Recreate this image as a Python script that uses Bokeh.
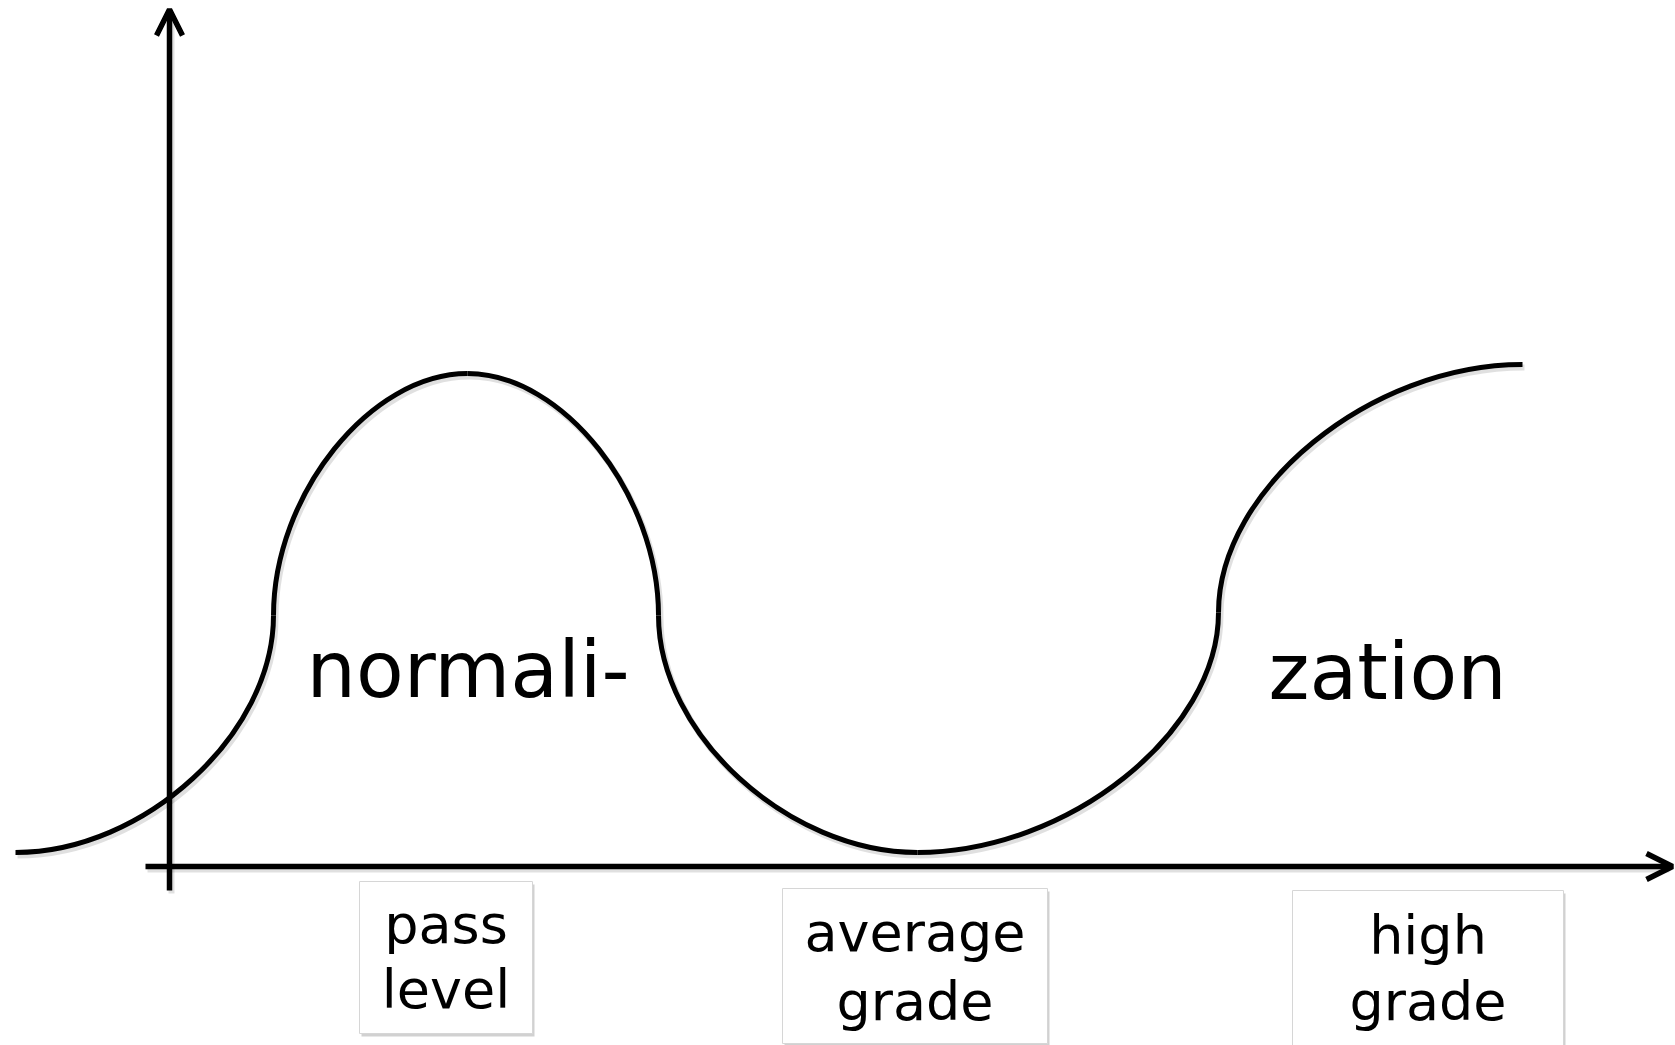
from bokeh.plotting import figure
from bokeh.models import Range1d, Arrow, OpenHead, ColumnDataSource
from bokeh.core.properties import value
from bokeh.embed import file_html
from bokeh.resources import INLINE

# ---- data (diagram units: origin where the two axes cross) ----
knot_x = [-154, 104, 298, 489, 748, 1049, 1353]
knot_y = [14, 251, 493, 251, 14, 254, 502]
knot_tangent = ["h", "v", "h", "v", "h", "v", "h"]

word_text = ["normali-", "zation"]
word_x = [137, 1099]
word_y = [166, 164]

label_top = ["pass", "average", "high"]
label_bottom = ["level", "grade", "grade"]
label_x = [276.5, 745.5, 1258.5]

# ---- layout constants ----
box_half_w = [86.5, 132.5, 135.5]
box_top = [-15, -22, -24]
box_bottom = [-167, -177, -190]
line1_y = [-79, -87, -90]
line2_y = [-144, -156, -156]
K = 0.5
FONT = "DejaVu Sans"
BASE_SHIFT = 0.385  # baseline correction, in em
WORD_SIZE = 78
LABEL_SIZE = 54

p = figure(width=1675, height=1045, output_backend="svg", toolbar_location=None,
           x_range=Range1d(-169, 1506), y_range=Range1d(-179, 866),
           x_axis_location=None, y_axis_location=None, min_border=0)
p.grid.visible = False
p.outline_line_color = None
p.background_fill_color = "white"
p.border_fill_color = "white"

# bezier segments between knots
segs = dict(x0=[], y0=[], x1=[], y1=[], cx0=[], cy0=[], cx1=[], cy1=[])
for i in range(len(knot_x) - 1):
    xa, ya, xb, yb = knot_x[i], knot_y[i], knot_x[i + 1], knot_y[i + 1]
    if knot_tangent[i] == "h":
        c0 = (xa + K * (xb - xa), ya)
        c1 = (xb, yb + K * (ya - yb))
    else:
        c0 = (xa, ya + K * (yb - ya))
        c1 = (xb - K * (xb - xa), yb)
    segs["x0"].append(xa); segs["y0"].append(ya)
    segs["x1"].append(xb); segs["y1"].append(yb)
    segs["cx0"].append(c0[0]); segs["cy0"].append(c0[1])
    segs["cx1"].append(c1[0]); segs["cy1"].append(c1[1])

shadow = {k: [v + (2 if k.startswith(("x", "cx")) else -3) for v in vals] for k, vals in segs.items()}
p.bezier(source=ColumnDataSource(shadow), x0="x0", y0="y0", x1="x1", y1="y1",
         cx0="cx0", cy0="cy0", cx1="cx1", cy1="cy1",
         line_color="black", line_alpha=0.12, line_width=6)

# axes with shadows
p.segment(x0=[2, -22], y0=[-27, -3], x1=[2, 1500], y1=[852, -3],
          line_color="black", line_alpha=0.12, line_width=6)
p.add_layout(Arrow(end=OpenHead(size=26, line_width=5.5, line_color="black"),
                   x_start=0, y_start=-24, x_end=0, y_end=857,
                   line_width=5.5, line_color="black"))
p.add_layout(Arrow(end=OpenHead(size=26, line_width=5.5, line_color="black"),
                   x_start=-24, y_start=0, x_end=1503, y_end=0,
                   line_width=5.5, line_color="black"))

p.bezier(source=ColumnDataSource(segs), x0="x0", y0="y0", x1="x1", y1="y1",
         cx0="cx0", cy0="cy0", cx1="cx1", cy1="cy1",
         line_color="black", line_width=5)

p.text(x=word_x, y=[v + BASE_SHIFT * WORD_SIZE for v in word_y], text=word_text,
       text_font=value(FONT), text_font_size=f"{WORD_SIZE}px", text_color="black",
       text_baseline="alphabetic", text_align="left")

# label boxes
lefts = [c - w for c, w in zip(label_x, box_half_w)]
rights = [c + w for c, w in zip(label_x, box_half_w)]
p.quad(left=[l + 2 for l in lefts], right=[r + 2 for r in rights],
       top=[t - 3 for t in box_top], bottom=[b - 3 for b in box_bottom],
       fill_color="#9a9a9a", fill_alpha=0.45, line_color=None)
p.quad(left=lefts, right=rights, top=box_top, bottom=box_bottom,
       fill_color="white", line_color="#d6d6d6", line_width=1)
p.text(x=label_x, y=[v + BASE_SHIFT * LABEL_SIZE for v in line1_y], text=label_top,
       text_font=value(FONT), text_font_size=f"{LABEL_SIZE}px", text_color="black",
       text_baseline="alphabetic", text_align="center")
p.text(x=label_x, y=[v + BASE_SHIFT * LABEL_SIZE for v in line2_y], text=label_bottom,
       text_font=value(FONT), text_font_size=f"{LABEL_SIZE}px", text_color="black",
       text_baseline="alphabetic", text_align="center")

open("out.html", "w").write(file_html(p, INLINE))
